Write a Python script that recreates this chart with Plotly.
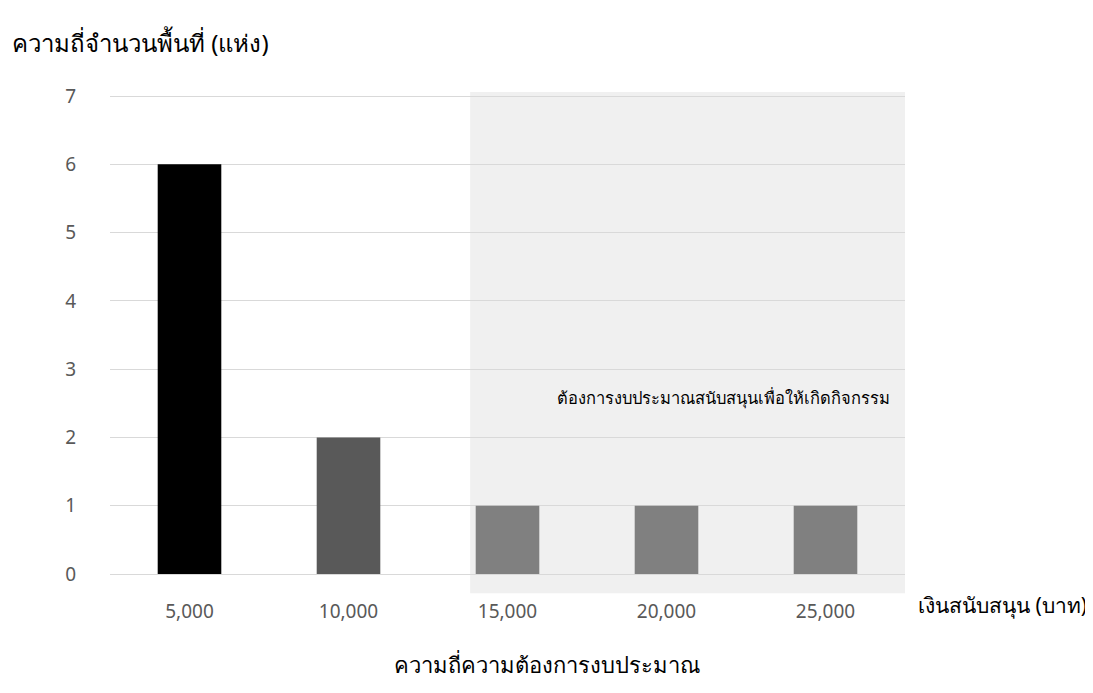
import plotly.graph_objects as go

categories = ["5,000", "10,000", "15,000", "20,000", "25,000"]
values = [6, 2, 1, 1, 1]
bar_colors = ["#000000", "#595959", "#808080", "#808080", "#808080"]
y_ticks = [0, 1, 2, 3, 4, 5, 6, 7]

FONT = "Noto Sans, Tahoma, sans-serif"

W, H = 1085, 685  # page has an 8px body offset

fig = go.Figure()
fig.add_trace(go.Bar(
    x=categories, y=values, marker=dict(color=bar_colors, line=dict(width=0)),
    width=0.4, showlegend=False, hoverinfo="x+y",
))

# shaded region (paper coords so it is not clipped)
fig.add_shape(type="rect", xref="paper", yref="paper", x0=0.453, x1=1.0, y0=-0.04, y1=1.002,
              fillcolor="#f0f0f0", line=dict(width=0), layer="below")

fig.add_annotation(x=3.36, y=2.58, xref="x", yref="y",
                   text="ต้องการงบประมาณสนับสนุนเพื่อให้เกิดกิจกรรม",
                   showarrow=False, font=dict(size=16.5, color="#000000", family=FONT))

fig.add_annotation(x=0, y=1, xref="paper", yref="paper", xanchor="left", yanchor="middle",
                   xshift=-100, yshift=51, text="ความถี่จำนวนพื้นที่ (แห่ง)", showarrow=False,
                   font=dict(size=24, color="#000000", family=FONT))
fig.add_annotation(x=1, y=0, xref="paper", yref="paper", xanchor="left", yanchor="middle",
                   xshift=11, yshift=-31, text="เงินสนับสนุน (บาท)", showarrow=False,
                   font=dict(size=21, color="#000000", family=FONT))
fig.add_annotation(x=0.5, y=0, xref="paper", yref="paper", xanchor="center", yanchor="middle",
                   xshift=39, yshift=-90, text="ความถี่ความต้องการงบประมาณ", showarrow=False,
                   font=dict(size=22, color="#000000", family=FONT))

fig.update_layout(
    width=W, height=H,
    margin=dict(l=102, r=W - 897, t=85, b=H - 566),
    paper_bgcolor="white", plot_bgcolor="rgba(0,0,0,0)",
    font=dict(family=FONT, color="#595959"),
    bargap=0.6,
    xaxis=dict(type="category", range=[-0.5, 4.5], showgrid=False, showline=True,
               linecolor="#d9d9d9", linewidth=1, ticks="", ticklabelstandoff=20,
               tickfont=dict(size=19, color="#595959"), zeroline=False),
    yaxis=dict(range=[0, 7.044], tickvals=y_ticks, showgrid=True, gridcolor="#d9d9d9",
               gridwidth=1, zeroline=False, showline=False, ticks="",
               ticklabelstandoff=33, tickfont=dict(size=19, color="#595959")),
)

fig.write_html("out.html")
